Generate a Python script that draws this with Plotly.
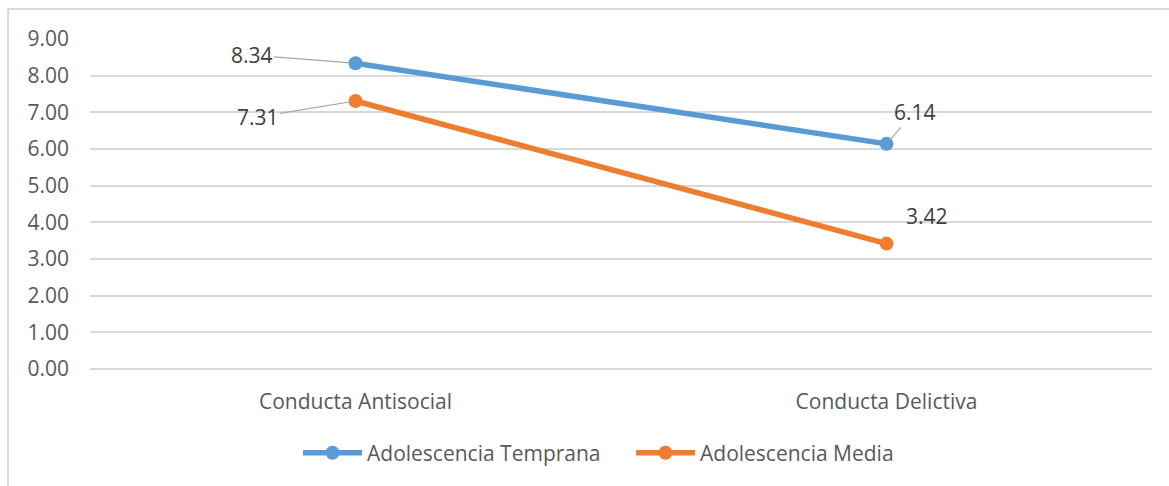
import plotly.graph_objects as go

categories = ["Conducta Antisocial", "Conducta Delictiva"]
temprana = [8.34, 6.14]
media = [7.31, 3.42]
y_ticks = [0, 1, 2, 3, 4, 5, 6, 7, 8, 9]
y_tick_labels = [f"{v:.2f}" for v in y_ticks]

BLUE = "#5B9BD5"
ORANGE = "#ED7D31"
GRID = "#D9D9D9"
TXT = "#595959"
FONT = "Open Sans"

fig = go.Figure()
fig.add_trace(go.Scatter(
    x=categories, y=temprana, name="Adolescencia Temprana",
    mode="lines+markers", line=dict(color=BLUE, width=5.5),
    marker=dict(size=14, color=BLUE)))
fig.add_trace(go.Scatter(
    x=categories, y=media, name="Adolescencia Media",
    mode="lines+markers", line=dict(color=ORANGE, width=5.5),
    marker=dict(size=14, color=ORANGE)))

# data labels with leader lines (offsets in px)
label_offsets = {
    (0, 0): (-104, -8, True),
    (0, 1): (28, -32, True),
    (1, 0): (-98, 16, True),
    (1, 1): (40, -28, False),
}
for si, vals in enumerate([temprana, media]):
    for ci, v in enumerate(vals):
        ax, ay, arrow = label_offsets[(si, ci)]
        if arrow:
            fig.add_annotation(x=categories[ci], y=v, text=f"{v:.2f}",
                               showarrow=True, ax=ax, ay=ay, arrowhead=0,
                               arrowwidth=1.2, arrowcolor="#A6A6A6", standoff=5,
                               font=dict(family=FONT, size=21, color="#404040"))
        else:
            fig.add_annotation(x=categories[ci], y=v, text=f"{v:.2f}",
                               showarrow=False, xshift=ax, yshift=-ay,
                               font=dict(family=FONT, size=21, color="#404040"))

# chart border (top and left edges visible)
fig.add_shape(type="line", xref="paper", yref="paper",
              x0=-82/1062, x1=1.2, y0=(369-9)/330, y1=(369-9)/330,
              line=dict(color=GRID, width=2))
fig.add_shape(type="line", xref="paper", yref="paper",
              x0=-82/1062, x1=-82/1062, y0=(369-9)/330, y1=-0.4,
              line=dict(color=GRID, width=2))

fig.update_layout(
    width=1169, height=486,
    margin=dict(l=90, r=17, t=39, b=117),
    paper_bgcolor="white", plot_bgcolor="white",
    font=dict(family=FONT, size=21, color=TXT),
    showlegend=True,
    legend=dict(orientation="h", x=(298 - 90) / 1062, xanchor="left",
                y=-0.255, yanchor="middle",
                font=dict(family=FONT, size=21, color=TXT),
                itemwidth=59, entrywidth=259, entrywidthmode="pixels"),
)
fig.update_xaxes(type="category", range=[-0.5, 1.5], showgrid=False,
                 showline=False, zeroline=False, ticks="",
                 ticklabelstandoff=18,
                 tickfont=dict(family=FONT, size=21, color=TXT))
fig.update_yaxes(range=[0, 9], tickvals=y_ticks, ticktext=y_tick_labels,
                 showgrid=True, gridcolor=GRID, gridwidth=1.5,
                 zeroline=True, zerolinecolor=GRID, zerolinewidth=1.5,
                 showline=False, ticks="",
                 ticklabelstandoff=20,
                 tickfont=dict(family=FONT, size=21, color=TXT))

fig.write_html("out.html", config={"displayModeBar": False},
               post_script="document.body.style.margin='0';document.body.style.padding='0';")
